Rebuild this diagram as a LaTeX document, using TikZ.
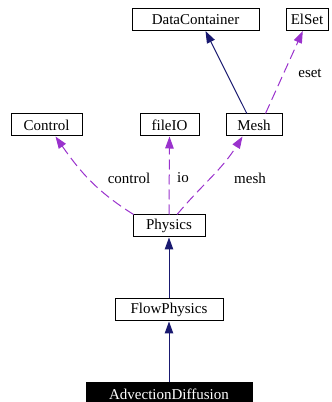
\documentclass[tikz,border=0pt]{standalone}
\usepackage{fontspec}
\setmainfont{Liberation Serif}
\usetikzlibrary{positioning, arrows.meta}

\definecolor{edgenavy}{HTML}{191970}
\definecolor{edgeorchid}{HTML}{9A32CD}

\begin{document}
\begin{tikzpicture}[
            x=1pt, y=1pt,
            node distance=61pt,
            block/.style={
                    rectangle,
                    draw=black,
                    line width=1pt,
                    fill=white,
                    align=center,
                    font=\fontsize{15}{17}\selectfont,
                    minimum height=22pt,
                    inner sep=0pt
                },
            current/.style={
                    block,
                    fill=black,
                    text=white
                },
            label/.style={
                    font=\fontsize{15}{17}\selectfont,
                    inner sep=0pt
                },
            inherit/.style={
                    draw=edgenavy,
                    line width=1pt,
                    -{Triangle[length=12pt,width=8.5pt]}
                },
            uses/.style={
                    draw=edgeorchid,
                    line width=1pt,
                    dash pattern=on 10pt off 5pt,
                    -{Triangle[length=12pt,width=8.5pt]}
                }
        ]
        \useasboundingbox (0,0) rectangle (332,402);

        % Nodes
        \node [current, minimum width=166pt] (adv) at (169,8) {AdvectionDiffusion};
        \node [block, minimum width=108pt, above=of adv] (flow) {FlowPhysics};
        \node [block, minimum width=72pt, above=of flow] (phys) {Physics};

        \node [block, minimum width=71pt] (ctrl) at (46.5,277) {Control};
        \node [block, minimum width=59pt] (fio) at (169.5,277) {fileIO};
        \node [block, minimum width=56pt] (mesh) at (254,277) {Mesh};
        \node [block, minimum width=127pt] (dc) at (195.5,382.5) {DataContainer};
        \node [block, minimum width=42pt] (elset) at (307,382.5) {ElSet};

        % Inheritance arrows
        \path [inherit] (adv.north) -- (flow.south);
        \path [inherit] (flow.north) -- (phys.south);
        \path [inherit] (mesh.122) -- (dc.311);

        % Usage arrows
        \path [uses] (phys.162) to[out=148, in=-55] (ctrl.308);
        \path [uses] (phys.north) -- (fio.south);
        \path [uses] (phys.55) to[out=50, in=-122] (mesh.225);
        \path [uses] (mesh.45) -- (elset.250);

        % Edge labels
        \node [label] (lctrl) at (129,224) {control};
        \node [label] (lio) at (183,224) {io};
        \node [label] (lmesh) at (250,224) {mesh};
        \node [label] (leset) at (310,329) {eset};
    \end{tikzpicture}
\end{document}
